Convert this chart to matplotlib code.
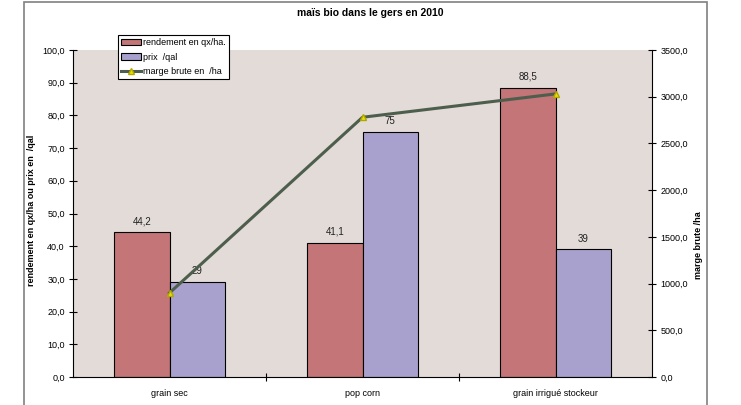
import matplotlib
matplotlib.use("Agg")
import matplotlib.pyplot as plt
import numpy as np
from matplotlib.patches import Rectangle

plt.rcParams['font.family'] = ['Liberation Sans', 'DejaVu Sans']

categories = ["grain sec", "pop corn", "grain irrigué stockeur"]
rendement = [44.2, 41.1, 88.5]
prix = [29, 75, 39]
marge = [900, 2780, 3030]
rendement_labels = ["44,2", "41,1", "88,5"]
prix_labels = ["29", "75", "39"]

red = "#C47577"
purple = "#A9A1CD"
bg = "#E3DBD8"
line_col = "#4E5E4C"

fig = plt.figure(figsize=(7.41, 4.05), dpi=100)
fig.patches.append(Rectangle((24/741, -0.1), (707-24)/741, 1.1 - 2/405, transform=fig.transFigure,
                             fill=False, edgecolor="#808080", linewidth=1.2))
ax = fig.add_axes([73/741, 1-377/405, (652-73)/741, (377-50)/405])
ax.set_facecolor(bg)

x = np.arange(len(categories))
w = 1/3.5
b1 = ax.bar(x - w/2, rendement, w, color=red, edgecolor="black", linewidth=0.8, label="rendement en qx/ha.")
b2 = ax.bar(x + w/2, prix, w, color=purple, edgecolor="black", linewidth=0.8, label="prix  /qal")
for xi, v, t in zip(x - w/2, rendement, rendement_labels):
    ax.text(xi, v + 1.8, t, ha="center", va="bottom", fontsize=7, color="#222222")
for xi, v, t in zip(x + w/2, prix, prix_labels):
    ax.text(xi, v + 1.8, t, ha="center", va="bottom", fontsize=7, color="#222222")

ax.set_xlim(-0.5, 2.5)
ax.set_ylim(0, 100)
ax.set_yticks(np.arange(0, 101, 10))
ax.set_yticklabels([f"{v:.1f}".replace(".", ",") for v in np.arange(0, 101, 10)], fontsize=6.5)
ax.set_xticks(x)
ax.set_xticklabels(categories, fontsize=6.5)
ax.tick_params(axis="x", length=0, pad=9)
ax.set_xticks([0.5, 1.5], minor=True)
ax.tick_params(axis="x", which="minor", length=6, direction="inout", width=0.8)
ax.tick_params(axis="y", length=6, direction="inout", width=0.8, pad=3)
for s in ["top", "right"]:
    ax.spines[s].set_visible(False)
ax.spines["left"].set_linewidth(0.8)
ax.spines["bottom"].set_linewidth(0.8)
ax.set_ylabel("rendement en qx/ha ou prix en  /qal", fontsize=6.5, fontweight="bold",
              ha="center", va="center")
ax.yaxis.set_label_coords((32 - 73) / 579, 0.51)

ax2 = ax.twinx()
ax2.set_ylim(0, 3500)
ax2.set_yticks(np.arange(0, 3501, 500))
ax2.set_yticklabels([f"{v:.1f}".replace(".", ",") for v in np.arange(0, 3501, 500)], fontsize=6.5)
ax2.tick_params(axis="y", length=6, direction="inout", width=0.8, pad=3)
for s in ["top", "left", "bottom"]:
    ax2.spines[s].set_visible(False)
ax2.spines["right"].set_linewidth(0.8)
ln, = ax2.plot(x, marge, color=line_col, linewidth=2.2, marker="^", markersize=4,
               markerfacecolor="#E8E000", markeredgecolor="#B0A800", label="marge brute en  /ha")
ax2.set_ylabel("marge brute /ha", fontsize=6.5, fontweight="bold", ha="center", va="center")
ax2.yaxis.set_label_coords((698 - 73) / 579, (377 - 245) / 327)

fig.text(0.5, 1 - 13/405, "maïs bio dans le gers en 2010", ha="center", va="center",
         fontsize=7.5, fontweight="bold")

leg = ax2.legend(handles=[b1, b2, ln], loc="upper left", bbox_to_anchor=(118/741, 1 - 35/405),
                 bbox_transform=fig.transFigure, fontsize=6.5, frameon=True, fancybox=False,
                 framealpha=1, edgecolor="black", borderpad=0.35, labelspacing=0.6,
                 handlelength=2.2, handleheight=0.8, handletextpad=0.25, borderaxespad=0)
leg.get_frame().set_linewidth(0.8)
leg.set_zorder(10)

fig.savefig("out.png", dpi=100)
